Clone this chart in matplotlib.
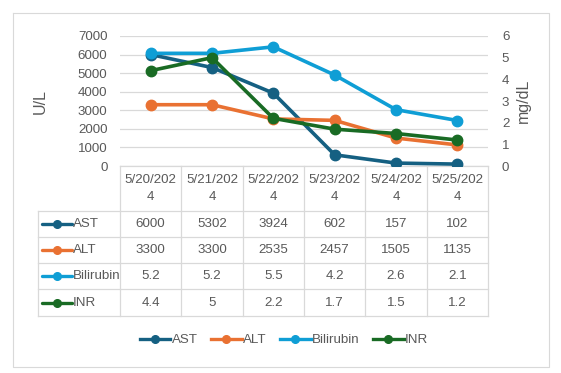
import matplotlib
matplotlib.use("Agg")
import matplotlib.pyplot as plt
from matplotlib.lines import Line2D

plt.rcParams['font.family'] = ['Liberation Sans Narrow', 'Liberation Sans', 'DejaVu Sans']

dates = ["5/20/2024", "5/21/2024", "5/22/2024", "5/23/2024", "5/24/2024", "5/25/2024"]
date_labels = ["5/20/202\n4", "5/21/202\n4", "5/22/202\n4", "5/23/202\n4", "5/24/202\n4", "5/25/202\n4"]
ast = [6000, 5302, 3924, 602, 157, 102]
alt = [3300, 3300, 2535, 2457, 1505, 1135]
bilirubin = [5.2, 5.2, 5.5, 4.2, 2.6, 2.1]
inr = [4.4, 5, 2.2, 1.7, 1.5, 1.2]
left_ticks = [0, 1000, 2000, 3000, 4000, 5000, 6000, 7000]
right_ticks = [0, 1, 2, 3, 4, 5, 6]

series = [
    ("AST", ast, "#156082", "left"),
    ("ALT", alt, "#E97132", "left"),
    ("Bilirubin", bilirubin, "#0F9ED5", "right"),
    ("INR", inr, "#196B24", "right"),
]

W, H = 561, 373
fig = plt.figure(figsize=(W / 100, H / 100), dpi=100)
txt = "#595959"
grid = "#d9d9d9"
fs = 9.6

ov = fig.add_axes([0, 0, 1, 1], zorder=0)
ov.set_xlim(0, W)
ov.set_ylim(H, 0)
ov.axis("off")

ov.plot([13, 549, 549, 13, 13], [13, 13, 367, 367, 13], color=grid, lw=0.8)

pl, pr, pt, pb = 120, 488, 36, 166
ax = fig.add_axes([pl / W, 1 - pb / H, (pr - pl) / W, (pb - pt) / H], zorder=2)
ax.patch.set_alpha(0)
ax.set_xlim(-0.5, len(dates) - 0.5)
ax.set_ylim(0, 7000)
ax.set_yticks(left_ticks)
ax.set_yticklabels([str(v) for v in left_ticks])
ax.set_xticks([])
ax.tick_params(axis="y", length=0, pad=9, labelsize=fs, labelcolor=txt)
for s in ax.spines.values():
    s.set_visible(False)
ax.grid(axis="y", color=grid, lw=0.9)
ax.set_axisbelow(True)

ax2 = ax.twinx()
ax2.set_ylim(0, 6)
ax2.set_yticks(right_ticks)
ax2.set_yticklabels([str(v) for v in right_ticks])
ax2.tick_params(axis="y", length=0, pad=10, labelsize=fs, labelcolor=txt)
for s in ax2.spines.values():
    s.set_visible(False)

x = list(range(len(dates)))
for name, vals, col, side in series:
    a = ax if side == "left" else ax2
    a.plot(x, vals, color=col, lw=2.6, marker="o", ms=7.5, solid_capstyle="round")

ov.text(40, 101, "U/L", rotation=90, ha="center", va="center", fontsize=11.5, color=txt)
ov.text(523, 101, "mg/dL", rotation=90, ha="center", va="center", fontsize=11.5, color=txt)

tl = 38
colw = (pr - pl) / len(dates)
row_edges = [166, 211, 237, 263, 289, 316]
ov.plot([pl, pr], [166, 166], color=grid, lw=0.9)
for i in range(len(dates) + 1):
    xx = pl + i * colw
    ov.plot([xx, xx], [166, 316], color=grid, lw=0.9)
ov.plot([tl, tl], [211, 316], color=grid, lw=0.9)
for y in row_edges[1:]:
    ov.plot([tl, pr], [y, y], color=grid, lw=0.9)
for i, lab in enumerate(date_labels):
    ov.text(pl + (i + 0.5) * colw, 188.5, lab, ha="center", va="center",
            fontsize=fs, color=txt, linespacing=1.6)
for r, (name, vals, col, side) in enumerate(series):
    yc = (row_edges[r + 1] + row_edges[r + 2]) / 2
    ov.plot([42, 72], [yc, yc], color=col, lw=2.4, solid_capstyle="round")
    ov.plot([57], [yc], color=col, marker="o", ms=5.5)
    ov.text(73, yc, name, ha="left", va="center", fontsize=fs, color=txt)
    for i, v in enumerate(vals):
        ov.text(pl + (i + 0.5) * colw, yc, str(v), ha="center", va="center",
                fontsize=fs, color=txt)

handles = [Line2D([0], [0], color=c, lw=2.4, marker="o", ms=5.5) for _, _, c, _ in series]
fig.legend(handles, [n for n, _, _, _ in series], loc="center",
           bbox_to_anchor=(284 / W, 1 - 340 / H), ncol=4, frameon=False,
           fontsize=fs, handlelength=2.3, handletextpad=0.1, columnspacing=1.0,
           labelcolor=txt)

fig.savefig("out.png", dpi=100)
